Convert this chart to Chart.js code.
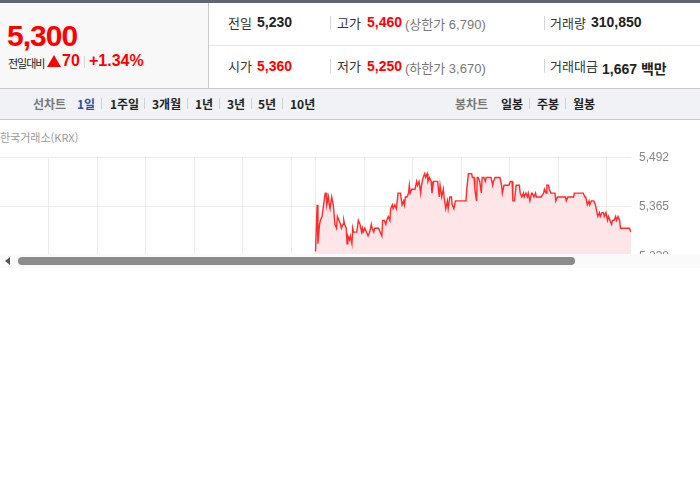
<!DOCTYPE html>
<html lang="ko">
<head>
<meta charset="utf-8">
<title>5,300 일중 차트</title>
<script src="https://cdn.jsdelivr.net/npm/chart.js@4"></script>
<style>
  body { margin: 0; background: #fff; font-family: "Liberation Sans", "Noto Sans CJK KR", sans-serif; }
  .wrap { position: relative; width: 700px; height: 490px; overflow: hidden; }
  .abs { position: absolute; white-space: nowrap; }
  .topline { left: 0; top: 0; width: 700px; height: 3px; background: #5f6571; }
  .leftbox { left: 0; top: 3px; width: 208px; height: 85px; background: #f8f8f8; border-right: 1px solid #c9c9c9; }
  .rowsep { left: 209px; top: 45px; width: 491px; height: 1px; background: #e6e6e6; }
  .price { left: 7px; top: 19px; font-size: 30px; font-weight: bold; color: #f00; letter-spacing: -1px; }
  .lbl { font-size: 13px; color: #333; font-family: "Noto Sans CJK KR", sans-serif; }
  .val { font-size: 14px; font-weight: bold; color: #222; }
  .red { color: #f00; }
  .sub { font-size: 13px; color: #777; }
  .bar { width: 1px; height: 14px; background: #d5d5d5; }
  .nav { left: 0; top: 88px; width: 700px; height: 30px; background: #f1f2f6; border-top: 1px solid #c9c9c9; border-bottom: 1px solid #c9c9c9; }
  .nv { font-size: 12px; font-weight: bold; color: #222; font-family: "Noto Sans CJK KR", sans-serif; top: 95px; }
  .nv.g { color: #777; }
  .nv.b { color: #2b4fa8; }
  .nbar { width: 1px; height: 11px; background: #d0d0d0; top: 98px; }
  .src { left: 0; top: 129px; font-size: 11px; color: #999; font-family: "Noto Sans CJK KR", sans-serif; }
  .chartbox { left: 0; top: 142px; width: 700px; height: 112px; overflow: hidden; }
  .scroll { left: 0; top: 254px; width: 700px; height: 14px; background: #fafafa; }
  .thumb { left: 18px; top: 257px; width: 557px; height: 8px; background: #8b8b8b; border-radius: 4px; }
  .arrow { left: 5px; top: 257px; width: 0; height: 0; border-top: 4px solid transparent; border-bottom: 4px solid transparent; border-right: 5px solid #555; }
  .tri { left: 47px; top: 55px; width: 0; height: 0; border-left: 7px solid transparent; border-right: 7px solid transparent; border-bottom: 12px solid #f00; }
</style>
</head>
<body>
<div class="wrap">
  <div class="abs topline"></div>
  <div class="abs leftbox"></div>
  <div class="abs rowsep"></div>

  <div class="abs price">5,300</div>
  <div class="abs lbl" style="left:8px;top:55px;font-size:11px;color:#222;letter-spacing:-1px;">전일대비</div>
  <div class="abs tri"></div>
  <div class="abs val red" style="left:62px;top:52px;font-size:16px;">70</div>
  <div class="abs bar" style="left:84px;top:56px;height:12px;"></div>
  <div class="abs val red" style="left:89px;top:52px;font-size:16px;">+1.34%</div>

  <div class="abs lbl" style="left:228px;top:13px;">전일</div>
  <div class="abs val" style="left:257px;top:14px;">5,230</div>
  <div class="abs bar" style="left:330px;top:16px;"></div>
  <div class="abs lbl" style="left:337px;top:13px;">고가</div>
  <div class="abs val red" style="left:367px;top:14px;">5,460</div>
  <div class="abs sub" style="left:405px;top:14px;">(<span style="font-family:'Noto Sans CJK KR'">상한가</span> 6,790)</div>
  <div class="abs bar" style="left:544px;top:16px;"></div>
  <div class="abs lbl" style="left:550px;top:13px;">거래량</div>
  <div class="abs val" style="left:591px;top:14px;">310,850</div>

  <div class="abs lbl" style="left:228px;top:56px;">시가</div>
  <div class="abs val red" style="left:257px;top:58px;">5,360</div>
  <div class="abs bar" style="left:330px;top:59px;"></div>
  <div class="abs lbl" style="left:337px;top:56px;">저가</div>
  <div class="abs val red" style="left:367px;top:58px;">5,250</div>
  <div class="abs sub" style="left:405px;top:58px;">(<span style="font-family:'Noto Sans CJK KR'">하한가</span> 3,670)</div>
  <div class="abs bar" style="left:544px;top:59px;"></div>
  <div class="abs lbl" style="left:550px;top:56px;">거래대금</div>
  <div class="abs val" style="left:602px;top:58px;">1,667 <span style="font-family:'Noto Sans CJK KR'">백만</span></div>

  <div class="abs nav"></div>
  <div class="abs nv g" style="left:33px;">선차트</div>
  <div class="abs nv b" style="left:77px;">1일</div>
  <div class="abs nbar" style="left:101px;"></div>
  <div class="abs nv" style="left:110px;">1주일</div>
  <div class="abs nbar" style="left:144px;"></div>
  <div class="abs nv" style="left:152px;">3개월</div>
  <div class="abs nbar" style="left:187px;"></div>
  <div class="abs nv" style="left:195px;">1년</div>
  <div class="abs nbar" style="left:219px;"></div>
  <div class="abs nv" style="left:227px;">3년</div>
  <div class="abs nbar" style="left:251px;"></div>
  <div class="abs nv" style="left:258px;">5년</div>
  <div class="abs nbar" style="left:282px;"></div>
  <div class="abs nv" style="left:290px;">10년</div>

  <div class="abs nv g" style="left:455px;">봉차트</div>
  <div class="abs nv" style="left:501px;">일봉</div>
  <div class="abs nbar" style="left:529px;"></div>
  <div class="abs nv" style="left:537px;">주봉</div>
  <div class="abs nbar" style="left:565px;"></div>
  <div class="abs nv" style="left:573px;">월봉</div>

  <div class="abs src">한국거래소(KRX)</div>

  <div class="abs chartbox">
    <canvas id="intraday" width="700" height="179"></canvas>
  </div>
  <div class="abs scroll"></div>
  <div class="abs arrow"></div>
  <div class="abs thumb"></div>
</div>

<script>
// minutes after 09:00 (today); the previous session occupies -390..0
const minutes = [
  0, 2, 3, 5, 6, 8, 10, 12, 13, 14, 16, 17, 18, 20, 21, 22, 24, 26, 27, 29,
  31, 32, 34, 35, 36, 38, 39, 40, 42, 43, 45, 46, 47, 50, 51, 53, 55, 57, 58, 59,
  61, 63, 65, 67, 69, 70, 72, 73, 75, 78, 80, 82, 83, 85, 87, 88, 90, 92, 93, 95,
  96, 98, 100, 102, 103, 105, 107, 109, 110, 111, 113, 115, 116, 117, 119, 121, 123, 125, 126, 128,
  130, 131, 133, 135, 136, 138, 139, 141, 143, 144, 146, 147, 149, 151, 153, 154, 156, 158, 159, 161,
  163, 164, 166, 168, 169, 171, 173, 174, 178, 182, 186, 187, 189, 191, 193, 194, 196, 197, 199, 200,
  201, 203, 205, 206, 208, 210, 211, 213, 215, 217, 219, 220, 222, 224, 226, 228, 230, 231, 233, 234,
  237, 239, 241, 243, 244, 246, 248, 249, 252, 253, 255, 257, 258, 260, 262, 263, 265, 267, 268, 270,
  272, 273, 277, 279, 282, 283, 285, 286, 288, 289, 291, 294, 296, 297, 299, 301, 305, 309, 310, 312,
  315, 319, 320, 324, 329, 331, 333, 334, 336, 338, 339, 341, 343, 344, 346, 347, 349, 351, 352, 354,
  356, 357, 359, 361, 362, 364, 366, 367, 369, 371, 372, 374, 376, 377, 379, 383, 386, 388, 390
];
const prices = [
  5250, 5370, 5270, 5320, 5330, 5340, 5370, 5400, 5400, 5370, 5390, 5370, 5360, 5390, 5380, 5370, 5320, 5310, 5340, 5330,
  5320, 5310, 5320, 5330, 5320, 5310, 5270, 5290, 5280, 5290, 5270, 5310, 5300, 5300, 5300, 5330, 5320, 5300, 5310, 5300,
  5310, 5300, 5290, 5300, 5320, 5310, 5300, 5310, 5310, 5310, 5300, 5290, 5330, 5330, 5320, 5330, 5340, 5330, 5360, 5370,
  5360, 5370, 5360, 5400, 5400, 5400, 5370, 5380, 5370, 5390, 5390, 5400, 5420, 5400, 5410, 5410, 5410, 5430, 5420, 5430,
  5400, 5420, 5440, 5450, 5440, 5450, 5430, 5440, 5430, 5400, 5430, 5430, 5430, 5430, 5390, 5420, 5390, 5410, 5390, 5360,
  5380, 5360, 5390, 5390, 5370, 5360, 5380, 5380, 5380, 5380, 5380, 5410, 5450, 5450, 5450, 5440, 5440, 5410, 5380, 5440,
  5440, 5430, 5400, 5440, 5440, 5430, 5440, 5440, 5440, 5440, 5420, 5430, 5440, 5440, 5440, 5440, 5420, 5400, 5420, 5420,
  5420, 5420, 5430, 5430, 5380, 5380, 5420, 5420, 5420, 5400, 5390, 5400, 5390, 5400, 5390, 5400, 5380, 5400, 5400, 5390,
  5400, 5390, 5390, 5390, 5400, 5410, 5400, 5420, 5420, 5410, 5400, 5400, 5400, 5380, 5390, 5390, 5390, 5390, 5380, 5390,
  5390, 5390, 5400, 5400, 5400, 5400, 5390, 5390, 5370, 5380, 5370, 5380, 5380, 5380, 5370, 5360, 5340, 5350, 5340, 5350,
  5350, 5340, 5350, 5330, 5340, 5330, 5320, 5330, 5330, 5340, 5330, 5340, 5330, 5310, 5310, 5310, 5310, 5310, 5300
];
// hourly grid: previous session 10:00..15:00, day boundary, today 10:00..15:00
const xGrid = [-330, -270, -210, -150, -90, -30, 0, 60, 120, 180, 240, 300, 360];
const yTicks = [5111, 5238, 5365, 5492];

const points = minutes.map((m, i) => ({ x: m, y: prices[i] }));

new Chart(document.getElementById("intraday"), {
    type: "line",
    data: {
        datasets: [{
            data: points,
            borderColor: "#ff2a2a",
            borderWidth: 1.4,
            backgroundColor: "#fde5e8",
            fill: "start",
            pointRadius: 0,
            tension: 0,
        }],
    },
    options: {
        responsive: false,
        animation: false,
        layout: { padding: { top: 8, bottom: 4, left: 0, right: 0 } },
        plugins: { legend: { display: false }, tooltip: { enabled: false } },
        scales: {
            x: {
                type: "linear",
                min: -390,
                max: 390,
                afterBuildTicks: s => { s.ticks = xGrid.map(v => ({ value: v })); },
                afterFit: s => { s.height = 0; },
                ticks: { display: false },
                grid: { color: "#ececec", drawTicks: false },
                border: { display: false },
            },
            y: {
                position: "right",
                min: 5111,
                max: 5492,
                afterBuildTicks: s => { s.ticks = yTicks.map(v => ({ value: v })); },
                afterFit: s => { s.width = 69; },
                ticks: {
                    padding: 8,
                    color: "#888",
                    font: { family: "Liberation Sans", size: 12 },
                    callback: v => v.toLocaleString("en-US"),
                },
                grid: { color: "#ececec", drawTicks: false },
                border: { display: false },
            },
        },
    },
});
</script>
</body>
</html>
